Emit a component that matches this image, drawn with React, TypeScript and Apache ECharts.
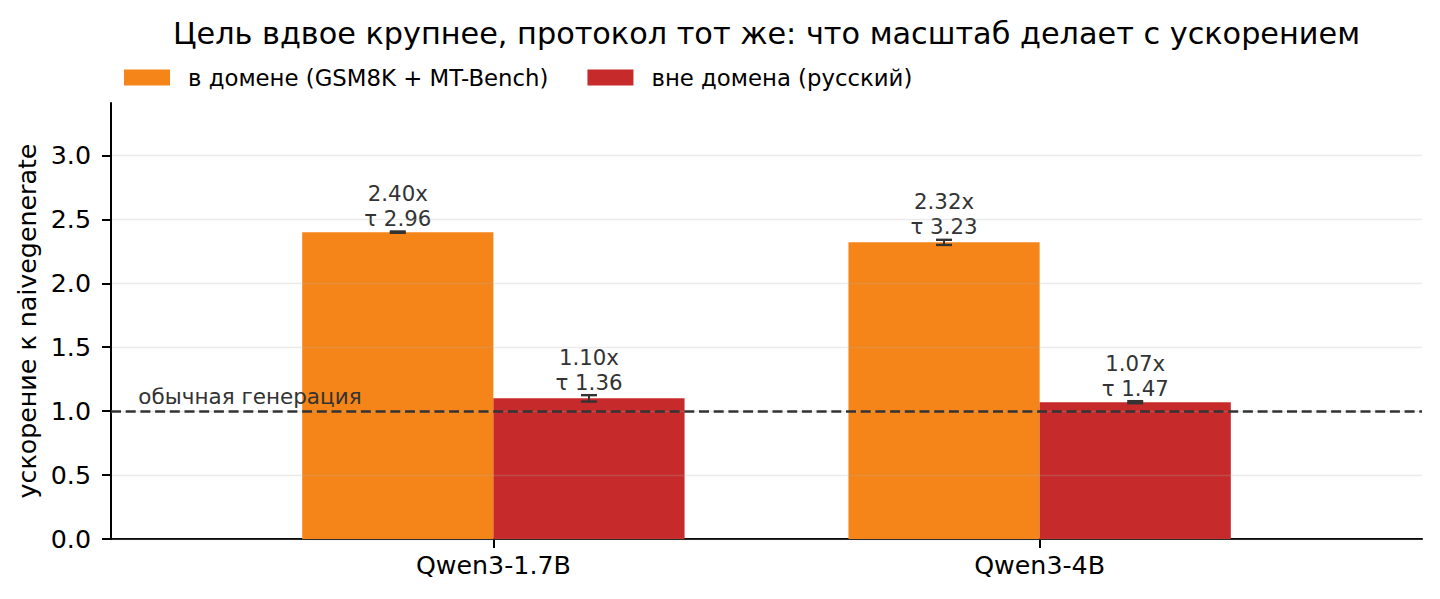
import React, { useEffect, useRef } from "react";
import * as echarts from "echarts";

// ---------- data ----------
const categories = ["Qwen3-1.7B", "Qwen3-4B"];
const seriesNames = ["в домене (GSM8K + MT-Bench)", "вне домена (русский)"];
const inDomainSpeedup = [2.4, 2.32];
const inDomainErr = [0.005, 0.02];
const inDomainTau = [2.96, 3.23];
const outDomainSpeedup = [1.1, 1.07];
const outDomainErr = [0.025, 0.008];
const outDomainTau = [1.36, 1.47];
const yTicks = [0, 0.5, 1.0, 1.5, 2.0, 2.5, 3.0];
const baselineValue = 1.0;
const baselineLabel = "обычная генерация";
const titleText = "Цель вдвое крупнее, протокол тот же: что масштаб делает с ускорением";
const yAxisName = "ускорение к naivegenerate";

// ---------- style ----------
const FONT = "DejaVu Sans";
const COLORS = ["#F58518", "#C62A2A"];
const BAR_W = 0.35;
const INK = "#333333";

function makeRenderer(color: string) {
  return (params: any, api: any) => {
    const x = api.value(0);
    const v = api.value(1);
    const e = api.value(2);
    const t = api.value(3);
    const bl = api.coord([x - BAR_W / 2, 0]);
    const tr = api.coord([x + BAR_W / 2, v]);
    const eTop = api.coord([x, v + e]);
    const eBot = api.coord([x, v - e]);
    const lab = api.coord([x, v + e + 0.005]);
    const cap = 8;
    return {
      type: "group",
      children: [
        {
          type: "rect",
          shape: { x: bl[0], y: tr[1], width: tr[0] - bl[0], height: bl[1] - tr[1] },
          style: { fill: color },
        },
        {
          type: "line",
          shape: { x1: eTop[0], y1: eTop[1], x2: eBot[0], y2: eBot[1] },
          style: { stroke: INK, lineWidth: 2 },
        },
        {
          type: "line",
          shape: { x1: eTop[0] - cap, y1: eTop[1], x2: eTop[0] + cap, y2: eTop[1] },
          style: { stroke: INK, lineWidth: 2.4 },
        },
        {
          type: "line",
          shape: { x1: eBot[0] - cap, y1: eBot[1], x2: eBot[0] + cap, y2: eBot[1] },
          style: { stroke: INK, lineWidth: 2.4 },
        },
        {
          type: "text",
          x: lab[0],
          y: lab[1],
          style: {
            text: `${v.toFixed(2)}x\nτ ${t.toFixed(2)}`,
            align: "center",
            verticalAlign: "bottom",
            fill: INK,
            fontSize: 21.3,
            fontFamily: FONT,
            lineHeight: 25,
          },
        },
      ],
    };
  };
}

export default function App() {
  const ref = useRef<HTMLDivElement>(null);
  useEffect(() => {
    document.body.style.margin = "0";
    if (!ref.current) return;
    const chart = echarts.init(ref.current, null, { renderer: "svg" });
    const inData = categories.map((_, i) => [i - BAR_W / 2, inDomainSpeedup[i], inDomainErr[i], inDomainTau[i]]);
    const outData = categories.map((_, i) => [i + BAR_W / 2, outDomainSpeedup[i], outDomainErr[i], outDomainTau[i]]);
    const catTicks = categories.map((_, i) => i);
    chart.setOption({
      animation: false,
      backgroundColor: "#ffffff",
      textStyle: { fontFamily: FONT },
      graphic: [
        {
          type: "text",
          x: 766.5,
          y: 33,
          style: {
            text: titleText,
            align: "center",
            verticalAlign: "middle",
            fill: "#000",
            fontSize: 30.3,
            fontFamily: FONT,
          },
        },
      ],
      legend: {
        data: seriesNames.map((n) => ({ name: n, icon: "rect" })),
        left: 124,
        top: 66,
        padding: 0,
        itemWidth: 46,
        itemHeight: 16,
        itemGap: 39,
        textStyle: { fontSize: 22.8, fontFamily: FONT, color: "#000", padding: [0, 0, 0, 13] },
      },
      grid: { left: 111, right: 18, top: 103, bottom: 60, containLabel: false },
      xAxis: {
        type: "value",
        min: -0.7,
        max: 1.7,
        splitLine: { show: false },
        axisLine: { show: true, onZero: false, lineStyle: { color: "#000", width: 2 } },
        axisTick: { show: true, customValues: catTicks, length: 9, lineStyle: { color: "#000", width: 2 } },
        axisLabel: {
          customValues: catTicks,
          formatter: (v: number) => categories[Math.round(v)] ?? "",
          fontSize: 25.3,
          fontFamily: FONT,
          color: "#000",
          margin: 14,
        },
      },
      yAxis: {
        type: "value",
        min: 0,
        max: 3.41,
        z: 3,
        name: yAxisName,
        nameLocation: "middle",
        nameRotate: 90,
        nameGap: 66,
        nameTextStyle: { fontSize: 25.3, fontFamily: FONT, color: "#000" },
        axisLine: { show: true, onZero: false, lineStyle: { color: "#000", width: 2 } },
        axisTick: { show: true, customValues: yTicks, length: 9, lineStyle: { color: "#000", width: 2 } },
        axisLabel: {
          customValues: yTicks,
          formatter: (v: number) => v.toFixed(1),
          fontSize: 25.3,
          fontFamily: FONT,
          color: "#000",
          margin: 20,
        },
        splitLine: { show: true, lineStyle: { color: "rgba(176,176,176,0.25)", width: 1.3 } },
      },
      series: [
        {
          type: "custom",
          name: seriesNames[0],
          itemStyle: { color: COLORS[0] },
          renderItem: makeRenderer(COLORS[0]),
          data: inData,
          encode: { x: 0, y: 1 },
          z: 2,
        },
        {
          type: "custom",
          name: seriesNames[1],
          itemStyle: { color: COLORS[1] },
          renderItem: makeRenderer(COLORS[1]),
          data: outData,
          encode: { x: 0, y: 1 },
          z: 2,
        },
        {
          type: "custom",
          name: "baseline",
          z: 5,
          data: [[-0.65, baselineValue + 0.03]],
          encode: { x: 0, y: 1 },
          renderItem: (params: any, api: any) => {
            const p = api.coord([api.value(0), api.value(1)]);
            return {
              type: "text",
              x: p[0],
              y: p[1],
              style: {
                text: baselineLabel,
                align: "left",
                verticalAlign: "bottom",
                fill: INK,
                fontSize: 21.5,
                fontFamily: FONT,
              },
            };
          },
          markLine: {
            silent: true,
            symbol: "none",
            label: { show: false },
            lineStyle: { color: INK, type: [10, 4.7], width: 2.6 },
            data: [{ yAxis: baselineValue }],
          },
        },
      ],
    });
    return () => chart.dispose();
  }, []);
  return <div ref={ref} style={{ width: 1440, height: 599 }} />;
}
